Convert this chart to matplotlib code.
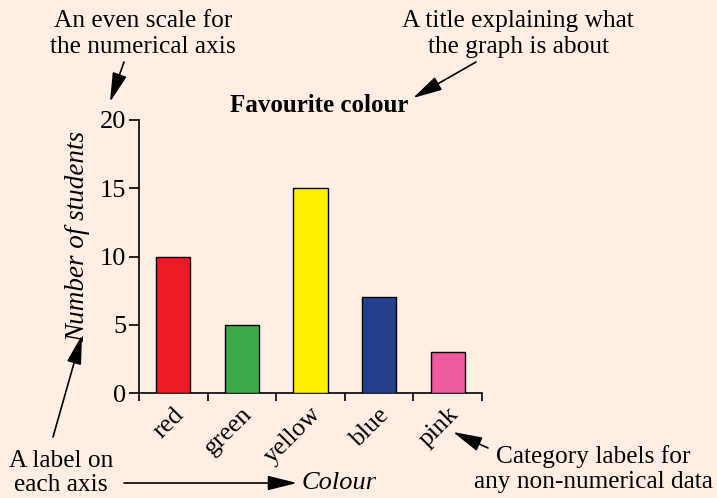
import matplotlib
matplotlib.use("Agg")
import matplotlib.pyplot as plt
import matplotlib.transforms as mtransforms

categories = ["red", "green", "yellow", "blue", "pink"]
values = [10, 5, 15, 7, 3]
bar_colors = ["#ED1C24", "#3DAA4A", "#FFF200", "#22408C", "#EE5C9E"]
yticks = [0, 5, 10, 15, 20]

W, H = 717, 498
BG = "#FEEEE3"
plt.rcParams['font.family'] = ['Liberation Serif', 'DejaVu Serif']

fig = plt.figure(figsize=(W / 100, H / 100), dpi=100, facecolor=BG)

def fp(x, y):
    return (x / W, 1 - y / H)

ax = fig.add_axes([139 / W, 1 - 393 / H, (482 - 139) / W, (393 - 120) / H])
ax.set_facecolor(BG)
x = list(range(len(categories)))
ax.bar(x, values, width=0.5, color=bar_colors, edgecolor="black", linewidth=1.0, zorder=3)
ax.set_xlim(-0.5, len(categories) - 0.5)
ax.set_ylim(0, 20)
for s in ["top", "right"]:
    ax.spines[s].set_visible(False)
ax.spines["left"].set_linewidth(1.2)
ax.spines["bottom"].set_linewidth(1.2)
ax.set_yticks(yticks)
ax.tick_params(axis="y", length=7, width=1.2, labelsize=19, pad=2)
ax.set_xticks([i - 0.5 for i in range(len(categories) + 1)])
ax.set_xticklabels([])
ax.tick_params(axis="x", which="major", length=6, width=1.2)
ax.set_xticks(x, minor=True)
ax.set_xticklabels(categories, minor=True, rotation=45, ha="right", va="center",
                   rotation_mode="anchor", fontsize=18.5)
ax.tick_params(axis="x", which="minor", length=0, pad=13)
off = mtransforms.ScaledTranslation(7 / 100, 0, fig.dpi_scale_trans)
for lab in ax.get_xticklabels(minor=True):
    lab.set_transform(lab.get_transform() + off)

ax.set_ylabel("Number of students", fontsize=19.5, style="italic")
ax.yaxis.set_label_coords((78 - 139) / 343, (393 - 236) / 273)
ax.yaxis.label.set_va("center")

fig.text(*fp(319, 106), "Favourite colour", fontsize=18, fontweight="bold",
         ha="center", va="center")

fs = 18.3
ls = 1.2
fig.text(*fp(143, 34), "An even scale for\nthe numerical axis", fontsize=fs,
         ha="center", va="center", linespacing=ls)
fig.text(*fp(518, 34), "A title explaining what\nthe graph is about", fontsize=fs,
         ha="center", va="center", linespacing=ls)
fig.text(*fp(61, 473), "A label on\neach axis", fontsize=fs,
         ha="center", va="center", linespacing=1.12)
fig.text(*fp(593, 469), "Category labels for\nany non-numerical data", fontsize=fs,
         ha="center", va="center", linespacing=ls)
fig.text(*fp(302, 483), "Colour", fontsize=19, style="italic", ha="left", va="center")

ap = dict(arrowstyle="-|>,head_length=1.0,head_width=0.25", color="black", lw=1.2,
          shrinkA=0, shrinkB=0)
def arrow(x0, y0, x1, y1):
    fig.add_artist(matplotlib.patches.FancyArrowPatch(
        fp(x0, y0), fp(x1, y1), transform=fig.transFigure, mutation_scale=18,
        **ap))

arrow(124, 62, 110, 102)
arrow(476, 62, 413, 98)
arrow(53, 437, 82, 335)
arrow(124, 483, 297, 483)
arrow(488, 448, 453, 432)

fig.savefig("out.png", dpi=100, facecolor=BG)
